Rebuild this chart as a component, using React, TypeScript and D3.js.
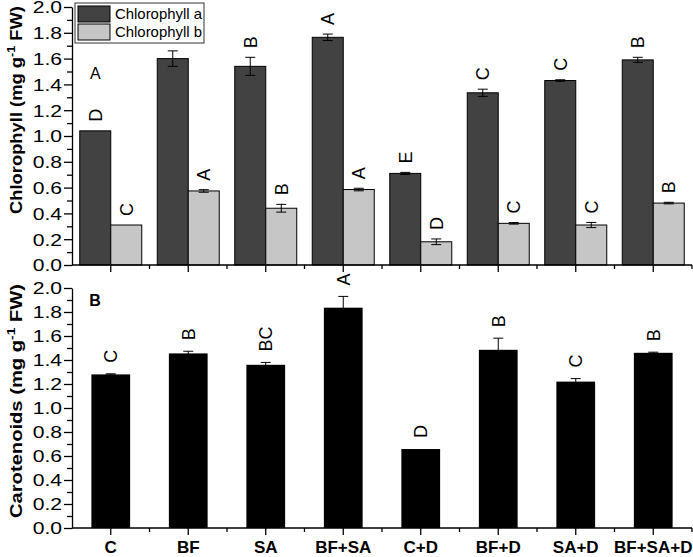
import React, { useEffect, useRef } from 'react';
import * as d3 from 'd3';

const treatments = ['C', 'BF', 'SA', 'BF+SA', 'C+D', 'BF+D', 'SA+D', 'BF+SA+D'];

const chlA = [1.04, 1.6, 1.54, 1.765, 0.71, 1.335, 1.43, 1.59];
const chlAErr = [0, 0.06, 0.07, 0.025, 0.008, 0.028, 0.006, 0.02];
const chlALetters = ['D', 'A', 'B', 'A', 'E', 'C', 'C', 'B'];

const chlB = [0.31, 0.574, 0.44, 0.585, 0.18, 0.323, 0.31, 0.48];
const chlBErr = [0, 0.01, 0.03, 0.01, 0.022, 0.006, 0.02, 0.006];
const chlBLetters = ['C', 'A', 'B', 'A', 'D', 'C', 'C', 'B'];

const carot = [1.28, 1.455, 1.36, 1.836, 0.658, 1.485, 1.22, 1.46];
const carotErr = [0.005, 0.018, 0.02, 0.094, 0, 0.097, 0.025, 0.005];
const carotLetters = ['C', 'B', 'BC', 'A', 'D', 'B', 'C', 'B'];

const yTicks = [0, 0.2, 0.4, 0.6, 0.8, 1.0, 1.2, 1.4, 1.6, 1.8, 2.0];
const yMinor = [0.1, 0.3, 0.5, 0.7, 0.9, 1.1, 1.3, 1.5, 1.7, 1.9];

const legendItems = ['Chlorophyll a', 'Chlorophyll b'];
const colorA = '#424242';
const colorB = '#c6c6c6';

// stray upright letter drawn over the C group in panel A
const strayLabel = { text: 'A', value: 1.488 };

const FONT = '"Liberation Sans", Arial, sans-serif';

function App() {
  const ref = useRef<SVGSVGElement>(null);

  useEffect(() => {
    document.body.style.margin = '0';
    const svg = d3.select(ref.current);
    svg.selectAll('*').remove();

    const left = 72;
    const right = 692;
    const x = d3.scaleBand().domain(treatments).range([left, right]);
    const bw = x.bandwidth();
    const cx = (d: string) => (x(d) as number) + bw / 2;

    const yTop = d3.scaleLinear().domain([0, 2]).range([265, 7]);
    const yBot = d3.scaleLinear().domain([0, 2]).range([528, 288]);

    const drawYAxis = (y: d3.ScaleLinear<number, number>) => {
      const g = svg.append('g').attr('transform', `translate(${left},0)`);
      g.append('g')
        .call(d3.axisLeft(y).tickValues(yMinor).tickSize(5).tickSizeOuter(0).tickFormat(() => ''))
        .call(s => s.select('.domain').remove());
      const major = g
        .append('g')
        .call(d3.axisLeft(y).tickValues(yTicks).tickSize(8).tickSizeOuter(0).tickFormat(d3.format('.1f')));
      major.select('.domain').attr('stroke-width', 1.3);
      g.selectAll('line').attr('stroke-width', 1.3);
      major
        .selectAll('text')
        .attr('font-family', FONT)
        .attr('font-size', 16.5)
        .attr('fill', '#000')
        .attr('x', -10 / 1.28)
        .attr('dy', '0.36em')
        .attr('transform', 'scale(1.28,1)');
    };

    const drawXAxis = (y0: number, labels: boolean) => {
      const g = svg.append('g');
      g.append('line')
        .attr('x1', left)
        .attr('x2', right)
        .attr('y1', y0)
        .attr('y2', y0)
        .attr('stroke', '#000')
        .attr('stroke-width', 1.3);
      g.selectAll('.maj')
        .data(treatments)
        .join('line')
        .attr('x1', d => cx(d))
        .attr('x2', d => cx(d))
        .attr('y1', y0)
        .attr('y2', y0 + 7)
        .attr('stroke', '#000')
        .attr('stroke-width', 1.3);
      g.selectAll('.min')
        .data(treatments.slice(1).concat(['__end']))
        .join('line')
        .attr('x1', d => (d === '__end' ? right : (x(d) as number)))
        .attr('x2', d => (d === '__end' ? right : (x(d) as number)))
        .attr('y1', y0)
        .attr('y2', y0 + 4)
        .attr('stroke', '#000')
        .attr('stroke-width', 1.3);
      if (labels) {
        g.selectAll('.lab')
          .data(treatments)
          .join('text')
          .attr('x', d => cx(d))
          .attr('y', y0 + 25)
          .attr('text-anchor', 'middle')
          .attr('font-family', FONT)
          .attr('font-weight', 'bold')
          .attr('font-size', 17)
          .text(d => d);
      }
    };

    const letter = (px: number, py: number, t: string) => {
      svg
        .append('text')
        .attr('transform', `translate(${px},${py}) rotate(-90)`)
        .attr('dy', '0.36em')
        .attr('font-family', FONT)
        .attr('font-size', 18)
        .text(t);
    };

    const errBar = (px: number, y: d3.ScaleLinear<number, number>, v: number, e: number) => {
      if (e <= 0) return;
      const g = svg.append('g').attr('stroke', '#000').attr('stroke-width', 1);
      g.append('line').attr('x1', px).attr('x2', px).attr('y1', y(v - e)).attr('y2', y(v + e));
      g.append('line').attr('x1', px - 5).attr('x2', px + 5).attr('y1', y(v - e)).attr('y2', y(v - e));
      g.append('line').attr('x1', px - 5).attr('x2', px + 5).attr('y1', y(v + e)).attr('y2', y(v + e));
    };

    // ---------- panel A ----------
    const sub = d3.scaleBand().domain(['a', 'b']).range([-bw * 0.4, bw * 0.4]);
    const sw = sub.bandwidth();
    const series = [
      { key: 'a', vals: chlA, errs: chlAErr, letters: chlALetters, color: colorA },
      { key: 'b', vals: chlB, errs: chlBErr, letters: chlBLetters, color: colorB },
    ];
    series.forEach(s => {
      svg
        .append('g')
        .selectAll('rect')
        .data(treatments)
        .join('rect')
        .attr('x', d => cx(d) + (sub(s.key) as number))
        .attr('width', sw)
        .attr('y', (d, i) => yTop(s.vals[i]))
        .attr('height', (d, i) => yTop(0) - yTop(s.vals[i]))
        .attr('fill', s.color)
        .attr('stroke', '#000')
        .attr('stroke-width', 1);
      treatments.forEach((d, i) => {
        const px = cx(d) + (sub(s.key) as number) + sw / 2;
        errBar(px, yTop, s.vals[i], s.errs[i]);
        letter(px, yTop(s.vals[i] + s.errs[i]) - 9, s.letters[i]);
      });
    });

    svg
      .append('text')
      .attr('x', cx(treatments[0]) - sw / 2)
      .attr('y', yTop(strayLabel.value))
      .attr('dy', '0.36em')
      .attr('text-anchor', 'middle')
      .attr('font-family', FONT)
      .attr('font-size', 16)
      .text(strayLabel.text);

    drawXAxis(yTop(0), false);
    drawYAxis(yTop);

    // legend
    const lg = svg.append('g').attr('transform', 'translate(75,3)');
    lg.append('rect')
      .attr('width', 129)
      .attr('height', 40)
      .attr('fill', '#fff')
      .attr('stroke', '#333')
      .attr('stroke-width', 1);
    legendItems.forEach((t, i) => {
      lg.append('rect')
        .attr('x', 3)
        .attr('y', 3 + i * 18)
        .attr('width', 32)
        .attr('height', 16)
        .attr('fill', i === 0 ? colorA : colorB)
        .attr('stroke', '#000')
        .attr('stroke-width', 1);
      lg.append('text')
        .attr('x', 40)
        .attr('y', 16 + i * 18)
        .attr('font-family', FONT)
        .attr('font-size', 14.5)
        .attr('textLength', 87)
        .attr('lengthAdjust', 'spacingAndGlyphs')
        .text(t);
    });

    // ---------- panel B ----------
    const cw = bw * 0.5;
    svg
      .append('g')
      .selectAll('rect')
      .data(treatments)
      .join('rect')
      .attr('x', d => cx(d) - cw / 2)
      .attr('width', cw)
      .attr('y', (d, i) => yBot(carot[i]))
      .attr('height', (d, i) => yBot(0) - yBot(carot[i]))
      .attr('fill', '#000');
    treatments.forEach((d, i) => {
      errBar(cx(d), yBot, carot[i], carotErr[i]);
      letter(cx(d), yBot(carot[i] + carotErr[i]) - 11, carotLetters[i]);
    });

    drawXAxis(yBot(0), true);
    drawYAxis(yBot);

    svg
      .append('text')
      .attr('x', 95)
      .attr('y', yBot(1.9))
      .attr('dy', '0.36em')
      .attr('text-anchor', 'middle')
      .attr('font-family', FONT)
      .attr('font-weight', 'bold')
      .attr('font-size', 16)
      .text('B');

    // y titles
    const title = (cy: number, len: number, name: string) => {
      const t = svg
        .append('text')
        .attr('transform', `translate(22,${cy}) rotate(-90)`)
        .attr('text-anchor', 'middle')
        .attr('font-family', FONT)
        .attr('font-weight', 'bold')
        .attr('font-size', 16)
        .attr('textLength', len)
        .attr('lengthAdjust', 'spacingAndGlyphs');
      t.append('tspan').text(`${name} (mg g`);
      t.append('tspan').attr('font-size', 11).attr('dy', -7).text('-1');
      t.append('tspan').attr('dy', 7).text(' FW)');
    };
    title(110, 208, 'Chlorophyll');
    title(401, 234, 'Carotenoids');
  }, []);

  return (
    <svg
      ref={ref}
      width={693}
      height={557}
      style={{ position: 'absolute', left: 0, top: 0, background: '#fff' }}
    />
  );
}

export default App;
